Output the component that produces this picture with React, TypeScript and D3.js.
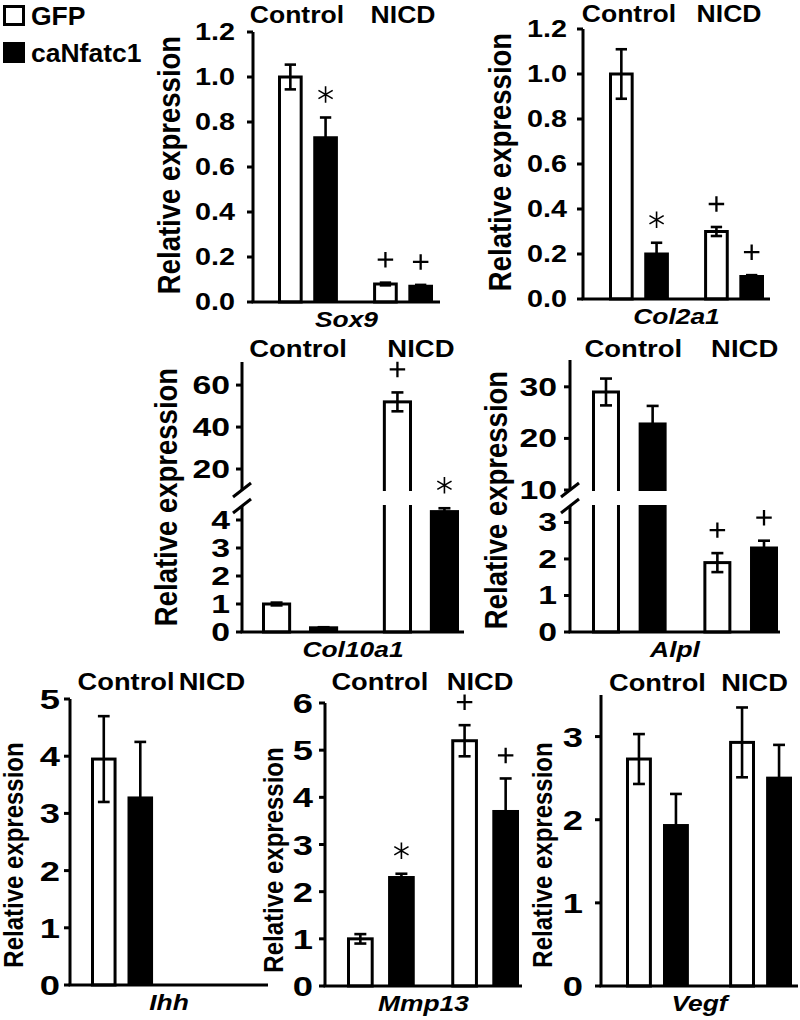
import React from "react";
import * as d3 from "d3";

// ---------- DATA ----------
const SERIES = ["GFP", "caNfatc1"];
const GROUPS = ["Control", "NICD"];
// value order in each array: [Control-GFP, Control-caNfatc1, NICD-GFP, NICD-caNfatc1]
const sox9Mean = [1.0, 0.73, 0.08, 0.07];
const sox9Err = [0.055, 0.09, 0.006, 0.006];
const sox9Sig = ["", "*", "+", "+"];
const sox9Ticks = [0, 0.2, 0.4, 0.6, 0.8, 1.0, 1.2];

const col2a1Mean = [1.0, 0.2, 0.3, 0.1];
const col2a1Err = [0.11, 0.05, 0.02, 0.006];
const col2a1Sig = ["", "*", "+", "+"];
const col2a1Ticks = [0, 0.2, 0.4, 0.6, 0.8, 1.0, 1.2];

const col10a1Mean = [1.0, 0.15, 52, 4.3];
const col10a1Err = [0.05, 0.02, 4.5, 0.12];
const col10a1Sig = ["", "", "+", "*"];
const col10a1LowTicks = [0, 1, 2, 3, 4];
const col10a1HighTicks = [20, 40, 60];

const alplMean = [29, 22.8, 1.9, 2.3];
const alplErr = [2.6, 3.5, 0.26, 0.2];
const alplSig = ["", "", "+", "+"];
const alplLowTicks = [0, 1, 2, 3];
const alplHighTicks = [10, 20, 30];

const ihhMean = [3.95, 3.27, null, null];
const ihhErr = [0.75, 0.98, null, null];
const ihhSig = ["", "", "", ""];
const ihhTicks = [0, 1, 2, 3, 4, 5];

const mmp13Mean = [1.0, 2.3, 5.2, 3.7];
const mmp13Err = [0.1, 0.08, 0.33, 0.7];
const mmp13Sig = ["", "*", "+", "+"];
const mmp13Ticks = [0, 1, 2, 3, 4, 5, 6];

const vegfMean = [2.73, 1.93, 2.93, 2.5];
const vegfErr = [0.3, 0.38, 0.42, 0.4];
const vegfSig = ["", "", "", ""];
const vegfTicks = [0, 1, 2, 3];

// ---------- LAYOUT ----------
const FONT = "'Liberation Sans', Arial, sans-serif";
const row1 = { tick: [23, 1.25], head: [23.5, 1.13], gene: [22, 1.2], ylab: [27.5, 1.12] };
const row2 = { tick: [25, 1.35], head: [23.5, 1.17], gene: [22, 1.2], ylab: [27.5, 1.12] };
const row3 = { tick: [28, 1.3], head: [23.5, 1.16], gene: [22, 1.2], ylab: [24, 1.12] };

const panels: any[] = [
  { gene: "Sox9", mean: sox9Mean, err: sox9Err, sig: sox9Sig, ticks: sox9Ticks, fmt: ".1f",
    axisX: 253, xEnd: 440, yZero: 302, yTop: 32, max: 1.2, bars: [278, 433], gPad: 0.37, sPad: 0.3,
    headY: 23, headDx: [-11, 0], ylab: [169, 165], tickGap: 18, row: row1 },
  { gene: "Col2a1", mean: col2a1Mean, err: col2a1Err, sig: col2a1Sig, ticks: col2a1Ticks, fmt: ".1f",
    axisX: 583, xEnd: 770, yZero: 299, yTop: 29, max: 1.2, bars: [609, 764], gPad: 0.37, sPad: 0.3,
    headY: 22, headDx: [-10, -5], ylab: [500, 162], tickGap: 16, row: row1 },
  { gene: "Col10a1", mean: col10a1Mean, err: col10a1Err, sig: col10a1Sig, ticks: col10a1LowTicks,
    highTicks: col10a1HighTicks, fmt: "d", broken: { lowMax: 4.5, highMin: 10, highMax: 71, yLowTop: 506, yHighBot: 490 },
    axisX: 242, xEnd: 464, yZero: 632, yTop: 362, bars: [262, 459], gPad: 0.37, sPad: 0.38,
    headY: 357, headDx: [-2, 0], ylab: [166, 497], tickGap: 12, row: row2 },
  { gene: "Alpl", mean: alplMean, err: alplErr, sig: alplSig, ticks: alplLowTicks,
    highTicks: alplHighTicks, fmt: "d", broken: { lowMax: 3.45, highMin: 10, highMax: 35.2, yLowTop: 506, yHighBot: 490 },
    axisX: 570, xEnd: 780, yZero: 632, yTop: 360, bars: [592, 778], gPad: 0.33, sPad: 0.4,
    headY: 357, headDx: [4, 4], ylab: [496, 500], tickGap: 13, row: row2 },
  { gene: "Ihh", mean: ihhMean, err: ihhErr, sig: ihhSig, ticks: ihhTicks, fmt: "d",
    axisX: 70, xEnd: 268, yZero: 985, yTop: 699, max: 5, bars: [91, 243], gPad: 0.31, sPad: 0.3,
    headY: 690, headDx: [4, 0], ylab: [14, 855], tickGap: 10, row: row3 },
  { gene: "Mmp13", mean: mmp13Mean, err: mmp13Err, sig: mmp13Sig, ticks: mmp13Ticks, fmt: "d",
    axisX: 325, xEnd: 522, yZero: 986, yTop: 703, max: 6, bars: [347, 519], gPad: 0.35, sPad: 0.35,
    headY: 690, headDx: [-1, -5], ylab: [274, 860], tickGap: 12, row: row3 },
  { gene: "Vegf", mean: vegfMean, err: vegfErr, sig: vegfSig, ticks: vegfTicks, fmt: "d",
    axisX: 601, xEnd: 798, yZero: 986, yTop: 695, max: 3.5, bars: [626, 792], gPad: 0.39, sPad: 0.3,
    headY: 691, headDx: [0, -6], ylab: [543, 855], tickGap: 18, row: row3 },
];

function SText(props: any) {
  const { x, y, size, sx = 1, anchor = "middle", italic = false, rotate = false, children, dy } = props;
  return (
    <text
      transform={`translate(${x},${y}) scale(${sx},1)${rotate ? " rotate(-90)" : ""}`}
      fontFamily={FONT}
      fontWeight="bold"
      fontStyle={italic ? "italic" : "normal"}
      fontSize={size}
      textAnchor={anchor}
      dy={dy}
      fill="#000"
    >
      {children}
    </text>
  );
}

const asterisk = d3.symbol(d3.symbolAsterisk, 190)();
const plus = d3.symbol(d3.symbolPlus, 80)();

function Panel({ p }: { p: any }) {
  const xg = d3.scaleBand<string>().domain(GROUPS).range(p.bars).paddingInner(p.gPad).paddingOuter(0);
  const xs = d3.scaleBand<string>().domain(SERIES).range([0, xg.bandwidth()]).paddingInner(p.sPad).paddingOuter(0);
  let yLow: any, yHigh: any = null;
  if (p.broken) {
    yLow = d3.scaleLinear().domain([0, p.broken.lowMax]).range([p.yZero, p.broken.yLowTop]);
    yHigh = d3.scaleLinear().domain([p.broken.highMin, p.broken.highMax]).range([p.broken.yHighBot, p.yTop]);
  } else {
    yLow = d3.scaleLinear().domain([0, p.max]).range([p.yZero, p.yTop]);
  }
  const Y = (v: number) => (yHigh && v > p.broken.lowMax ? yHigh(v) : yLow(v));
  const fmt = d3.format(p.fmt);
  const [tF, tS] = p.row.tick;
  const [hF, hS] = p.row.head;
  const [gF, gS] = p.row.gene;
  const [lF, lS] = p.row.ylab;
  const bw = xs.bandwidth();
  const cap = Math.min(12, bw * 0.46);

  const items: any[] = [];
  GROUPS.forEach((g, gi) =>
    SERIES.forEach((s, si) => {
      const i = gi * 2 + si;
      if (p.mean[i] == null) return;
      items.push({ g, s, si, i, x: (xg(g) as number) + (xs(s) as number), m: p.mean[i], e: p.err[i], sig: p.sig[i] });
    })
  );

  const axisTop = p.yTop;
  const axisSegs = p.broken
    ? [[p.yZero, p.broken.yLowTop], [p.broken.yHighBot, axisTop]]
    : [[p.yZero, axisTop]];

  return (
    <g>
      {items.map((d) => {
        const top = Y(d.m);
        return d.si === 0 ? (
          <rect key={"b" + d.i} x={d.x + 1.5} y={top} width={bw - 3} height={p.yZero - top}
            fill="#fff" stroke="#000" strokeWidth={3} />
        ) : (
          <rect key={"b" + d.i} x={d.x} y={top - 1.5} width={bw} height={p.yZero - top + 1.5} fill="#000" />
        );
      })}
      {p.broken &&
        items
          .filter((d) => d.m > p.broken.lowMax)
          .map((d) => (
            <rect key={"gap" + d.i} x={d.x - 3} y={p.broken.yHighBot + 1} width={bw + 6}
              height={p.broken.yLowTop - p.broken.yHighBot - 2} fill="#fff" />
          ))}
      {items.map((d) => {
        const cx = d.x + bw / 2;
        const yt = Y(d.m + d.e);
        const yb = Y(d.m - d.e);
        return (
          <g key={"e" + d.i} stroke="#000" strokeWidth={2.6}>
            <line x1={cx} x2={cx} y1={yt} y2={yb} />
            <line x1={cx - cap / 2} x2={cx + cap / 2} y1={yt} y2={yt} />
            {d.si === 0 && <line x1={cx - cap / 2} x2={cx + cap / 2} y1={yb} y2={yb} />}
          </g>
        );
      })}
      {items
        .filter((d) => d.sig)
        .map((d) => (
          <path key={"s" + d.i}
            transform={`translate(${d.x + bw / 2},${Y(d.m + d.e) - 23})`}
            d={d.sig === "*" ? (asterisk as string) : (plus as string)}
            fill="none" stroke="#000" strokeWidth={d.sig === "*" ? 1.6 : 2.3} />
        ))}
      {axisSegs.map((s, k) => (
        <line key={"ax" + k} x1={p.axisX} x2={p.axisX} y1={s[0]} y2={s[1]} stroke="#000" strokeWidth={3} />
      ))}
      {p.broken &&
        [p.broken.yHighBot, p.broken.yLowTop].map((yy: number, k: number) => (
          <line key={"br" + k} x1={p.axisX - 9} x2={p.axisX + 9} y1={yy + 7} y2={yy - 7} stroke="#000" strokeWidth={3} />
        ))}
      {p.ticks.map((t: number) => (
        <g key={"t" + t}>
          <line x1={p.axisX - 6} x2={p.axisX} y1={yLow(t)} y2={yLow(t)} stroke="#000" strokeWidth={3} />
          <SText x={p.axisX - p.tickGap} y={yLow(t)} dy="0.36em" size={tF} sx={tS} anchor="end">{fmt(t)}</SText>
        </g>
      ))}
      {yHigh &&
        p.highTicks.map((t: number) => (
          <g key={"ht" + t}>
            <line x1={p.axisX - 6} x2={p.axisX} y1={yHigh(t)} y2={yHigh(t)} stroke="#000" strokeWidth={3} />
            <SText x={p.axisX - p.tickGap} y={yHigh(t)} dy="0.36em" size={tF} sx={tS} anchor="end">{fmt(t)}</SText>
          </g>
        ))}
      <line x1={p.axisX - 1.5} x2={p.xEnd} y1={p.yZero} y2={p.yZero} stroke="#000" strokeWidth={3} />
      <SText x={(p.axisX + p.xEnd) / 2} y={p.yZero + 25} size={gF} sx={gS} italic>{p.gene}</SText>
      {GROUPS.map((g, gi) => (
        <SText key={"h" + g} x={(xg(g) as number) + xg.bandwidth() / 2 + p.headDx[gi]} y={p.headY} size={hF} sx={hS}>
          {g}
        </SText>
      ))}
      <SText x={p.ylab[0]} y={p.ylab[1]} dy="0.35em" size={lF} sx={lS} rotate>Relative expression</SText>
    </g>
  );
}

export default function App() {
  return (
    <svg width={800} height={1020} style={{ position: "absolute", left: 0, top: 0, background: "#fff" }}>
      <rect width={800} height={1020} fill="#fff" />
      {SERIES.map((s, i) => (
        <g key={s}>
          <rect x={i === 0 ? 4.5 : 3} y={i === 0 ? 6.5 : 42} width={i === 0 ? 19 : 22} height={i === 0 ? 18 : 21}
            fill={i === 0 ? "#fff" : "#000"} stroke="#000" strokeWidth={i === 0 ? 3 : 0} />
          <SText x={31} y={i === 0 ? 25 : 62} size={25} sx={1.06} anchor="start">{s}</SText>
        </g>
      ))}
      {panels.map((p) => (
        <Panel key={p.gene} p={p} />
      ))}
    </svg>
  );
}
